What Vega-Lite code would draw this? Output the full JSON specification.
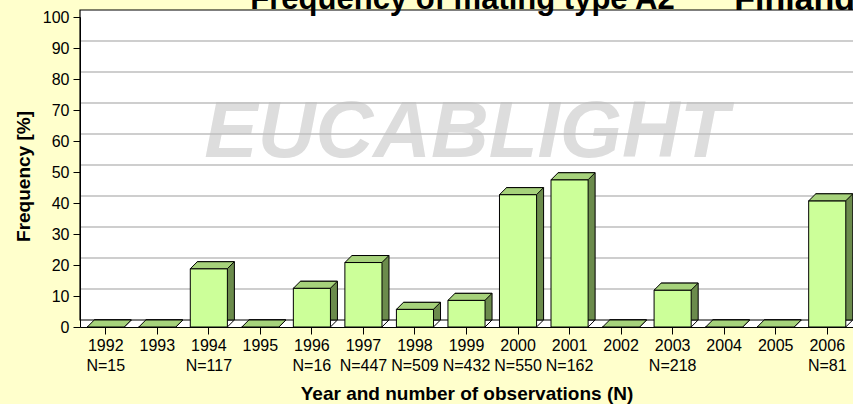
{
  "$schema": "https://vega.github.io/schema/vega-lite/v6.json",
  "autosize": "none",
  "width": 773,
  "height": 310,
  "padding": {"left": 80, "top": 17, "right": 0, "bottom": 77},
  "background": "#FFFFCC",
  "config": {
    "view": {"fill": "#FFFFFF", "stroke": null},
    "font": "Liberation Sans"
  },
  "datasets": {
    "bars": [
      {"year": "1992", "n": 15, "label": "1992|N=15", "freq": 0},
      {"year": "1993", "n": null, "label": "1993", "freq": 0},
      {"year": "1994", "n": 117, "label": "1994|N=117", "freq": 18.8},
      {"year": "1995", "n": null, "label": "1995", "freq": 0},
      {"year": "1996", "n": 16, "label": "1996|N=16", "freq": 12.5},
      {"year": "1997", "n": 447, "label": "1997|N=447", "freq": 20.8},
      {"year": "1998", "n": 509, "label": "1998|N=509", "freq": 5.7},
      {"year": "1999", "n": 432, "label": "1999|N=432", "freq": 8.6},
      {"year": "2000", "n": 550, "label": "2000|N=550", "freq": 42.7},
      {"year": "2001", "n": 162, "label": "2001|N=162", "freq": 47.5},
      {"year": "2002", "n": null, "label": "2002", "freq": 0},
      {"year": "2003", "n": 218, "label": "2003|N=218", "freq": 11.9},
      {"year": "2004", "n": null, "label": "2004", "freq": 0},
      {"year": "2005", "n": null, "label": "2005", "freq": 0},
      {"year": "2006", "n": 81, "label": "2006|N=81", "freq": 40.7}
    ],
    "grid": [
      {"v": 10}, {"v": 20}, {"v": 30}, {"v": 40}, {"v": 50},
      {"v": 60}, {"v": 70}, {"v": 80}, {"v": 90}
    ],
    "wall": [{"lo": 0, "hi": 100}]
  },
  "encoding": {
    "x": {
      "field": "label",
      "type": "nominal",
      "sort": null,
      "scale": {
        "domain": ["1992|N=15", "1993", "1994|N=117", "1995", "1996|N=16", "1997|N=447", "1998|N=509", "1999|N=432", "2000|N=550", "2001|N=162", "2002", "2003|N=218", "2004", "2005", "2006|N=81"],
        "paddingInner": 0.28,
        "paddingOuter": 0.14
      },
      "axis": {
        "title": "Year and number of observations (N)",
        "titleFontSize": 19,
        "titleFontWeight": "bold",
        "titleColor": "#000000",
        "titleBaseline": "alphabetic",
        "titleY": 72,
        "labelExpr": "split(datum.value, '|')",
        "labelAngle": 0,
        "labelFontSize": 16,
        "labelColor": "#000000",
        "labelLineHeight": 20,
        "labelBaseline": "top",
        "labelPadding": 3,
        "tickSize": 7,
        "tickColor": "#000000",
        "domainColor": "#000000",
        "zindex": 1
      }
    },
    "y": {
      "type": "quantitative",
      "scale": {"domain": [0, 100], "nice": false},
      "axis": {
        "title": "Frequency [%]",
        "titleFontSize": 19,
        "titleFontWeight": "bold",
        "titleColor": "#000000",
        "titleBaseline": "alphabetic",
        "titleX": -51,
        "titleY": 159,
        "values": [0, 10, 20, 30, 40, 50, 60, 70, 80, 90, 100],
        "grid": false,
        "labelFontSize": 16,
        "labelColor": "#000000",
        "labelPadding": 4,
        "tickSize": 7,
        "tickColor": "#000000",
        "domainColor": "#000000",
        "zindex": 1
      }
    }
  },
  "layer": [
    {
      "data": {"name": "wall"},
      "mark": {"type": "rect", "fill": "#FFFFFF", "stroke": "#000000", "strokeWidth": 1.2, "xOffset": 7, "x2Offset": 7, "yOffset": -7, "y2Offset": -7},
      "encoding": {
        "x": null,
        "y": {"field": "lo", "type": "quantitative"},
        "y2": {"field": "hi"}
      }
    },
    {
      "data": {"name": "wall"},
      "mark": {"type": "text", "text": "EUCABLIGHT", "fontSize": 80, "fontWeight": "bold", "fontStyle": "italic", "color": "#DDDDDD", "align": "center", "baseline": "alphabetic", "font": "Liberation Sans"},
      "encoding": {
        "x": {"datum": "1999|N=432"},
        "y": {"datum": 55}
      }
    },
    {
      "data": {"name": "grid"},
      "mark": {"type": "rule", "color": "#BEBEBE", "strokeWidth": 1.5, "xOffset": 7, "x2Offset": 7, "yOffset": -7, "y2Offset": -7},
      "encoding": {
        "x": null,
        "y": {"field": "v", "type": "quantitative"}
      }
    },
    {
      "data": {"name": "bars"},
      "mark": {"type": "bar", "fill": "#6B8B4C", "stroke": "#000000", "strokeWidth": 1, "xOffset": 7, "yOffset": -7, "y2Offset": 0},
      "encoding": {
        "y": {"field": "freq", "type": "quantitative"}
      }
    },
    {
      "data": {"name": "bars"},
      "mark": {"type": "bar", "fill": "#CCFF99", "stroke": "#000000", "strokeWidth": 1},
      "encoding": {
        "y": {"field": "freq", "type": "quantitative"}
      }
    },
    {
      "data": {"name": "bars"},
      "mark": {"type": "point", "shape": "M18.5,0L25.5,-7L25.5,0Z", "size": 4, "filled": true, "fill": "#FFFFFF", "strokeWidth": 0, "opacity": 1},
      "encoding": {
        "y": {"datum": 0}
      }
    },
    {
      "data": {"name": "bars"},
      "mark": {"type": "point", "shape": "M18.5,0L25.5,-7", "size": 4, "filled": false, "stroke": "#000000", "strokeWidth": 1, "opacity": 1},
      "encoding": {
        "y": {"datum": 0}
      }
    },
    {
      "data": {"name": "bars"},
      "mark": {"type": "point", "shape": "M-18.5,0L18.5,0L25.5,-7L-11.5,-7Z", "size": 4, "filled": true, "fill": "#A6D27B", "stroke": "#000000", "strokeWidth": 1, "opacity": 1},
      "encoding": {
        "y": {"field": "freq", "type": "quantitative"}
      }
    },
    {
      "data": {"name": "wall"},
      "mark": {"type": "text", "text": "Frequency of mating type A2", "fontSize": 31, "fontWeight": "bold", "color": "#000000", "align": "center", "baseline": "alphabetic", "dx": -4, "font": "Liberation Sans"},
      "encoding": {
        "x": {"datum": "1999|N=432"},
        "y": {"datum": 102.7}
      }
    },
    {
      "data": {"name": "wall"},
      "mark": {"type": "text", "text": "Finland", "fontSize": 34, "fontWeight": "bold", "color": "#000000", "align": "left", "baseline": "alphabetic", "dx": 10, "font": "Liberation Sans"},
      "encoding": {
        "x": {"datum": "2004"},
        "y": {"datum": 102.2}
      }
    }
  ]
}
